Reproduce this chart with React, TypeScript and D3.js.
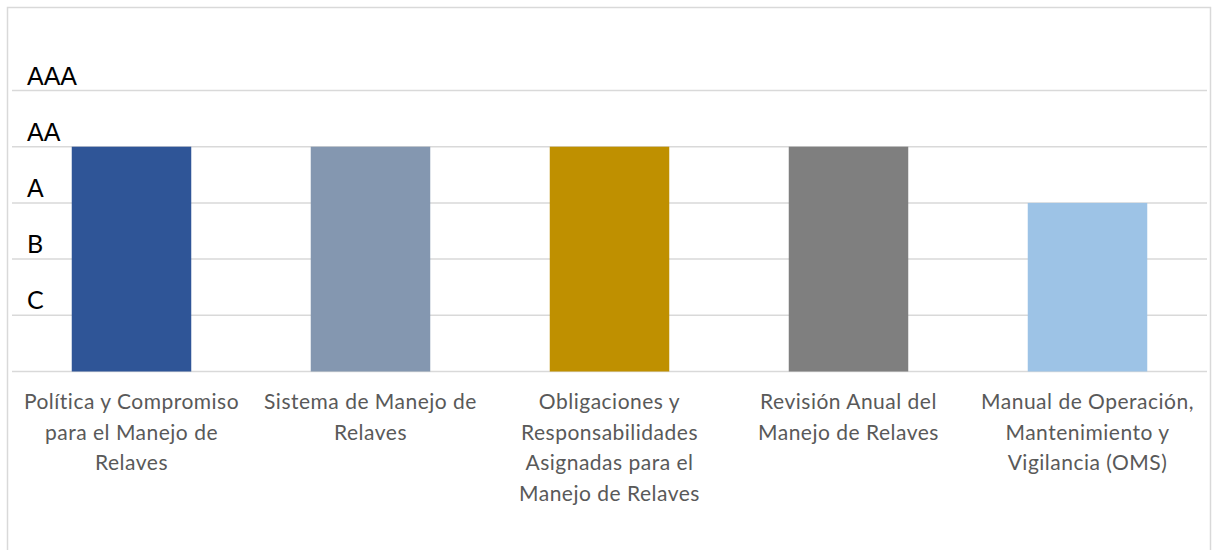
import React from "react";
import * as d3 from "d3";

const categories: string[][] = [
  ["Política y Compromiso", "para el Manejo de", "Relaves"],
  ["Sistema de Manejo de", "Relaves"],
  ["Obligaciones y", "Responsabilidades", "Asignadas para el", "Manejo de Relaves"],
  ["Revisión Anual del", "Manejo de Relaves"],
  ["Manual de Operación,", "Mantenimiento y", "Vigilancia (OMS)"],
];
const values: number[] = [4, 4, 4, 4, 3];
const barColors: string[] = ["#2F5597", "#8497B0", "#BF9000", "#7F7F7F", "#9DC3E6"];
const tickLabels: string[] = ["C", "B", "A", "AA", "AAA"];
const tickValues: number[] = [0, 1, 2, 3, 4, 5];

const W = 1213;
const H = 550;
const plotLeft = 12;
const plotRight = 1207;
const plotTop = 90.5;
const plotBottom = 371.5;

export default function App() {
  const x = d3
    .scaleBand<number>()
    .domain(categories.map((_, i) => i))
    .range([plotLeft, plotRight])
    .paddingInner(0.5)
    .paddingOuter(0.25);
  const y = d3.scaleLinear().domain([0, 5]).range([plotBottom, plotTop]);

  return (
    <svg
      width={W}
      height={H}
      style={{ position: "absolute", left: 0, top: 0, background: "#fff" }}
    >
      <rect x={7.5} y={7.5} width={1203} height={600} fill="#fff" stroke="#d9d9d9" strokeWidth={1.5} />
      {tickValues.map((t) => (
        <line
          key={t}
          x1={plotLeft}
          x2={plotRight}
          y1={y(t)}
          y2={y(t)}
          stroke="#d9d9d9"
          strokeWidth={1.5}
        />
      ))}
      {values.map((v, i) => (
        <rect
          key={i}
          x={x(i)}
          y={y(v)}
          width={x.bandwidth()}
          height={y(0) - y(v)}
          fill={barColors[i]}
        />
      ))}
      {tickLabels.map((lab, i) => (
        <text
          key={lab}
          x={27}
          y={y(i + 1) - 6}
          fontFamily={i < 2 ? "Lato, 'Liberation Sans', sans-serif" : "'Liberation Sans', Arial, sans-serif"}
          fontSize={25}
          fill="#000"
        >
          {lab}
        </text>
      ))}
      {categories.map((lines, i) => (
        <text
          key={i}
          x={(x(i) as number) + x.bandwidth() / 2}
          y={409}
          textAnchor="middle"
          fontFamily="Lato, 'Open Sans', sans-serif"
          fontSize={21}
          letterSpacing={0.5}
          fill="#595959"
        >
          {lines.map((ln, j) => (
            <tspan key={j} x={(x(i) as number) + x.bandwidth() / 2} dy={j === 0 ? 0 : 30.5}>
              {ln}
            </tspan>
          ))}
        </text>
      ))}
    </svg>
  );
}
